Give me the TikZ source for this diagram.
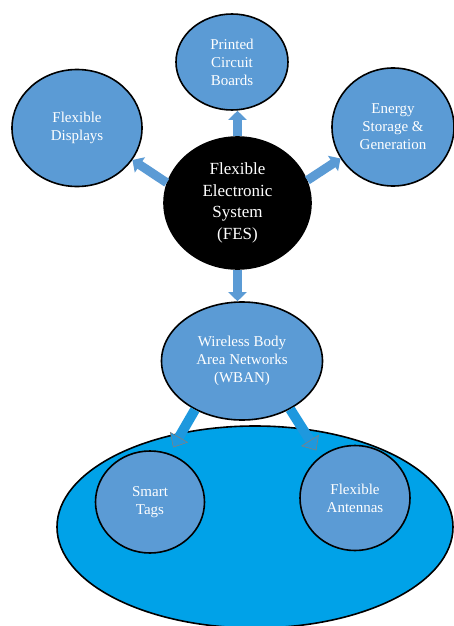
\documentclass[tikz,border=0pt]{standalone}
\usepackage{fontspec}
\setmainfont{Liberation Serif}
\usetikzlibrary{shapes,arrows.meta,positioning}
\usepackage{xcolor}
\definecolor{nodeblue}{RGB}{91,155,213}
\definecolor{baseblue}{RGB}{0,162,232}
\definecolor{shaftblue}{RGB}{30,152,222}

\begin{document}
\begin{tikzpicture}[x=1pt,y=-1pt,%
		   topic/.style={draw=black,line width=1.6pt,fill=nodeblue,text=white,shape=ellipse,inner sep=0pt,align=center,font=\fontsize{15}{18}\selectfont},
		   core/.style={topic,fill=black,font=\fontsize{17}{21.5}\selectfont},
		   link/.style={-{Triangle[width=18pt,length=9pt]},line width=9pt,nodeblue},
		   sublink/.style={-{Triangle[width=21pt,length=12pt,line width=0.6pt,fill=shaftblue,color=gray]},line width=10pt,shaftblue,shorten >=7pt}]

	\useasboundingbox (0,0) rectangle (454,626);

	% lower field holding the WBAN parts
	\draw[line width=1.6pt,fill=baseblue] (255,527) ellipse (198 and 101);

	\node[core,minimum width=147pt,minimum height=132pt] (fes) at (237.5,203) {Flexible\\Electronic\\System\\(FES)};

	\foreach \name/\x/\y/\w/\h/\desc in {%
	   disp/77/128/130/117/Flexible\\Displays,%
	   pcb/232/62/112/96/Printed\\Circuit\\Boards,%
	   energy/393/127/122/118/Energy\\Storage \&\\Generation,%
	   wban/242/361/161/118/Wireless Body\\Area Networks\\(WBAN),%
	   tags/150/502/109/102/Smart\\Tags,%
	   ant/355/498/110/105/Flexible\\Antennas%
	   } {\node[topic,minimum width=\w pt,minimum height=\h pt] (\name) at (\x,\y) {\desc};}

	\foreach \a/\b in {fes.164/disp.330, fes.north/fes.north |- pcb.south, fes.18/energy.211, fes.south/fes.south |- wban.north}
	   \draw[link] (\a) -- (\b);

	\draw[sublink] (wban.226) -- (tags.68);
	\draw[sublink] (wban.315) -- (ant.130);

\end{tikzpicture}
\end{document}
